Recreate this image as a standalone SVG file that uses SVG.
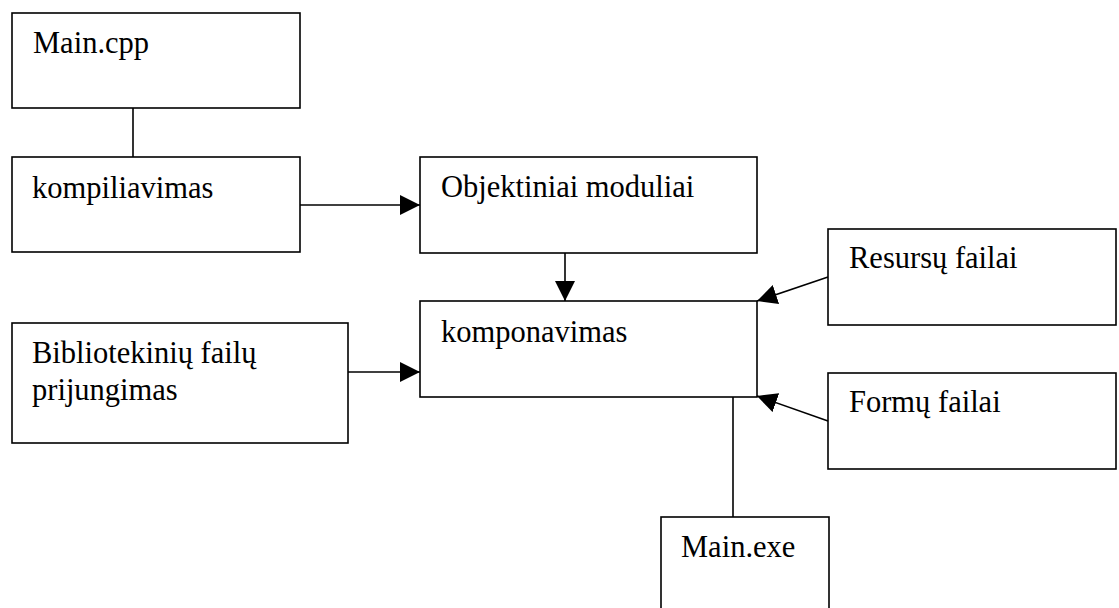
<svg xmlns="http://www.w3.org/2000/svg" width="1119" height="608" viewBox="0 0 1119 608">
<style>
.box{fill:#fff;stroke:#000;stroke-width:1.6}
.t{font-family:'Liberation Serif','Times New Roman',Tinos,'DejaVu Serif',serif;font-size:30.5px;fill:#000}
.c{stroke:#000;stroke-width:1.6;fill:none}
</style>
<defs>
<marker id="ah" markerUnits="userSpaceOnUse" markerWidth="20" markerHeight="20" refX="20" refY="10" orient="auto">
<path d="M0,0 L20,10 L0,20 Z" fill="#000"/>
</marker>
</defs>
<rect width="1119" height="608" fill="#fff"/>
<g id="connectors">
<line class="c" x1="133" y1="108" x2="133" y2="157"/>
<line class="c" x1="300" y1="205" x2="420" y2="205" marker-end="url(#ah)"/>
<line class="c" x1="565" y1="253" x2="565" y2="301" marker-end="url(#ah)"/>
<line class="c" x1="348" y1="372" x2="420" y2="372" marker-end="url(#ah)"/>
<line class="c" x1="828" y1="277" x2="757" y2="301" marker-end="url(#ah)"/>
<line class="c" x1="828" y1="421" x2="757" y2="396" marker-end="url(#ah)"/>
<line class="c" x1="733" y1="397" x2="733" y2="517"/>
</g>
<g id="main-cpp">
<rect class="box" x="12" y="13" width="288" height="95"/>
<text class="t" font-family="Liberation Serif, serif" x="33" y="53">Main.cpp</text>
</g>
<g id="kompiliavimas">
<rect class="box" x="12" y="157" width="288" height="95"/>
<text class="t" x="32" y="198">kompiliavimas</text>
</g>
<g id="objektiniai">
<rect class="box" x="420" y="157" width="337" height="96"/>
<text class="t" x="441" y="197">Objektiniai moduliai</text>
</g>
<g id="komponavimas">
<rect class="box" x="420" y="301" width="337" height="96"/>
<text class="t" x="441" y="342">komponavimas</text>
</g>
<g id="bibliotekiniu">
<rect class="box" x="12" y="323" width="336" height="120"/>
<text class="t" x="32" y="363">Bibliotekinių failų</text>
<text class="t" x="32" y="400">prijungimas</text>
</g>
<g id="resursu">
<rect class="box" x="828" y="229" width="288" height="96"/>
<text class="t" x="849" y="268">Resursų failai</text>
</g>
<g id="formu">
<rect class="box" x="828" y="373" width="288" height="96"/>
<text class="t" x="849" y="412">Formų failai</text>
</g>
<g id="main-exe">
<rect class="box" x="661" y="517" width="168" height="100"/>
<text class="t" x="681" y="557">Main.exe</text>
</g>
</svg>
